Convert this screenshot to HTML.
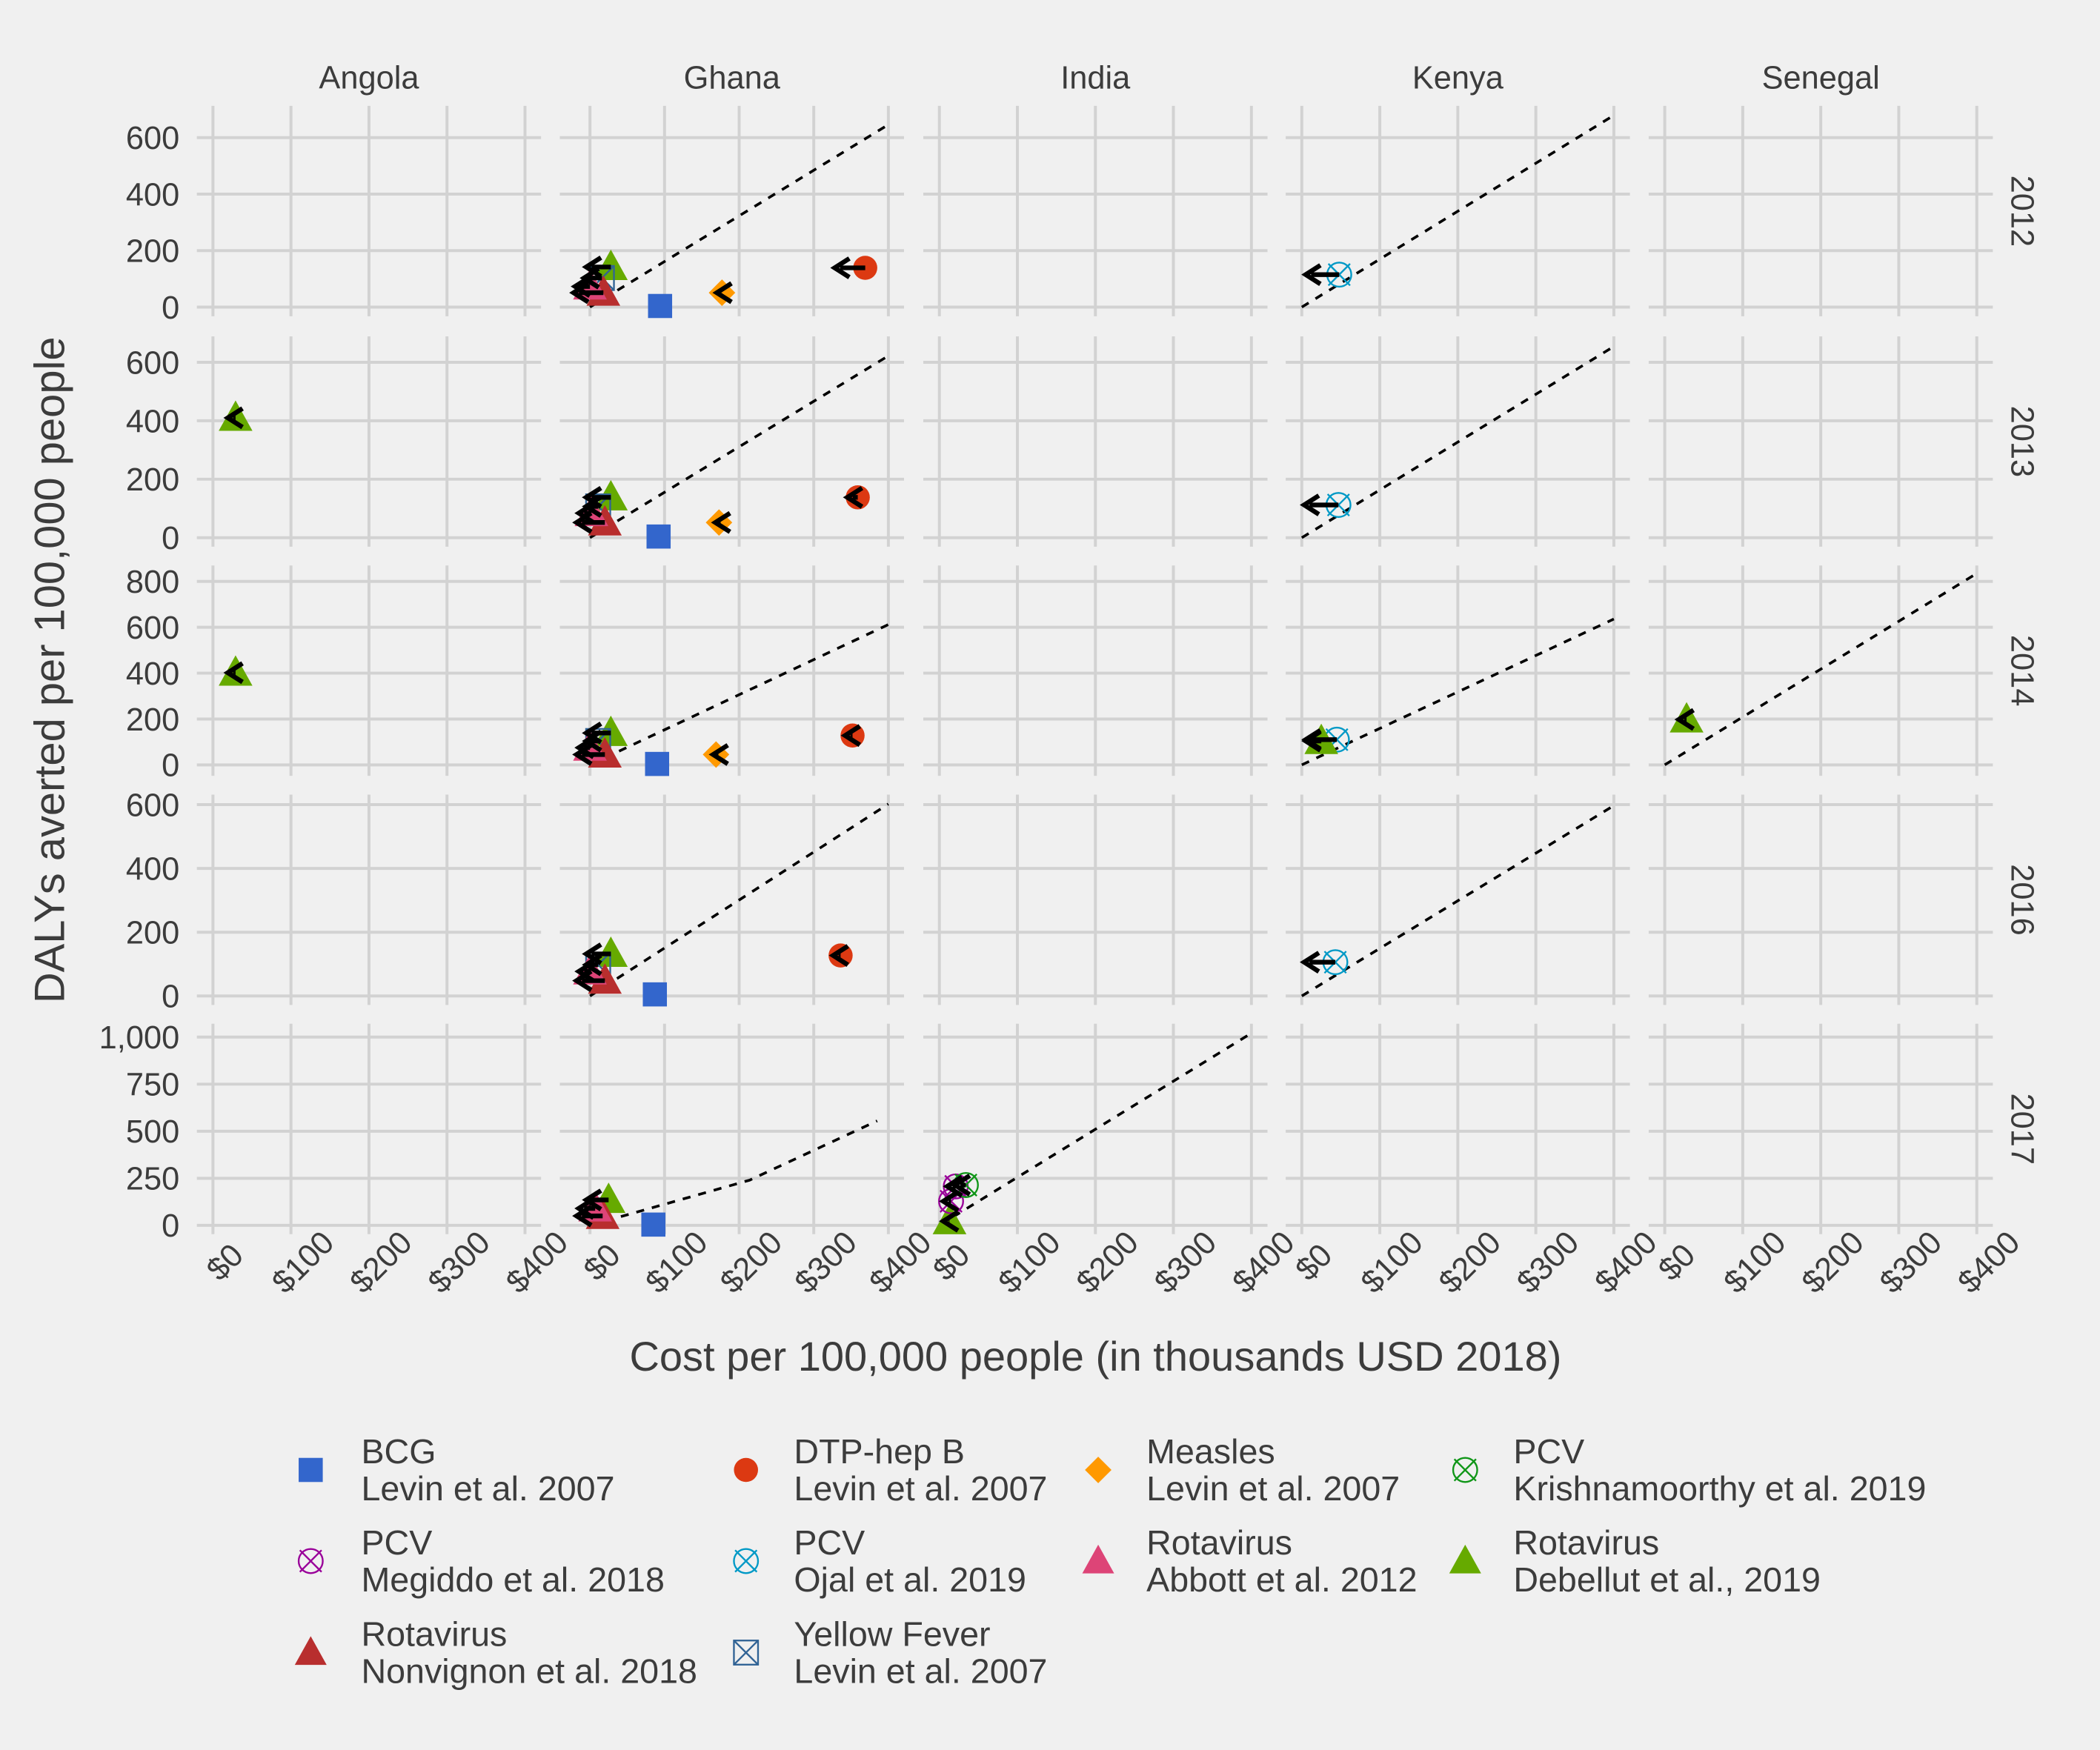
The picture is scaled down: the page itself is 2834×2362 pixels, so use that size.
<!DOCTYPE html>
<html><head><meta charset="utf-8"><style>
html,body{margin:0;padding:0;background:#f0f0f0;}
svg{display:block;}
text{font-family:"Liberation Sans",sans-serif;fill:#3c3c3c;}
</style></head><body>
<svg id="chart" width="2834" height="2362" viewBox="0 0 1568 1306" preserveAspectRatio="none" xmlns="http://www.w3.org/2000/svg">
<rect x="0" y="0" width="1568" height="1306" fill="#f0f0f0"/>
<g id="panels"></g>
<text x="48" y="500" font-size="32" text-anchor="middle" transform="rotate(-90 48 500)">DALYs averted per 100,000 people</text>
<text x="818" y="1023" font-size="31" text-anchor="middle">Cost per 100,000 people (in thousands USD 2018)</text>
<g id="legend"></g>
</svg>
<script>
// ---- data ----
const countries = ["Angola","Ghana","India","Kenya","Senegal"];
const years = ["2012","2013","2014","2016","2017"];
const xTicks = [0,100,200,300,400];
const xTickLabels = ["$0","$100","$200","$300","$400"];
const yTicksByRow = [[0,200,400,600],[0,200,400,600],[0,200,400,600,800],[0,200,400,600],[0,250,500,750,1000]];
const yTickLabelsByRow = [["0","200","400","600"],["0","200","400","600"],["0","200","400","600","800"],["0","200","400","600"],["0","250","500","750","1,000"]];
const xDomains = [[-20.6,420.6],[-40.4,421],[-20.6,420.6],[-20.6,420.6],[-20.6,420.6]];
const yDomains = [[-32.3,712.5],[-30.8,688.7],[-47.9,869.7],[-28.2,631.5],[-46.6,1071]];
const studies = ["BCG|Levin et al. 2007","DTP-hep B|Levin et al. 2007","Measles|Levin et al. 2007","PCV|Krishnamoorthy et al. 2019","PCV|Megiddo et al. 2018","PCV|Ojal et al. 2019","Rotavirus|Abbott et al. 2012","Rotavirus|Debellut et al., 2019","Rotavirus|Nonvignon et al. 2018","Yellow Fever|Levin et al. 2007"];
const studyShapes = ["square","circle","diamond","circlex","circlex","circlex","triangle","triangle","triangle","squarex"];
const studyColors = ["#3366cc","#dc3912","#ff9900","#109618","#990099","#0099c6","#dd4477","#66aa00","#b82e2e","#316395"];
// points: country index, year index, study index, cost, dalys, arrow tip cost (NaN = no arrow)
const ptCountry = [1,1,1,1,1,1,1, 0, 0, 1,1,1,1,1,1,1, 1,1,1,1,1,1,1, 1,1,1,1,1,1, 1,1,1,1, 2,2,2,2, 3,3,3,3,3, 4];
const ptYear    = [0,0,0,0,0,0,0, 1, 2, 1,1,1,1,1,1,1, 2,2,2,2,2,2,2, 3,3,3,3,3,3, 4,4,4,4, 4,4,4,4, 0,1,2,2,3, 2];
const ptStudy   = [0,2,1,7,9,8,6, 7, 7, 0,2,1,7,9,8,6, 0,2,1,7,9,8,6, 0,1,7,9,8,6, 0,7,8,6, 7,4,4,3, 5,5,5,7,5, 7];
const ptCost    = [94,177,369,28,16,18,0, 29,29, 92,173,359,28,11,20,2, 90,169,352,28,11,20,0, 87,336,28,11,20,0, 85,25,17,7, 13,21,15,34, 48,47,45,25,43, 28];
const ptDaly    = [4,51,139,142,103,51,73, 410,402, 4,52,138,138,107,52,84, 4,45,128,139,104,45,75, 5,127,132,98,48,77, 4,135,50,90, 22,207,128,214, 115,112,110,104,106, 198];
const ptTip     = [NaN,170,328,-5,-8,-22,-20, 19,19, NaN,168,345,-5,-5,-18,-15, NaN,165,342,-5,-5,-18,-15, NaN,326,-5,-5,-18,-15, NaN,-5,-18,-15, 5,10,5,20, 5,3,5,5,3, 18];
// threshold lines: country, year, polyline in data
const thrCountry = [1,1,1,1,1,3,3,3,3,2,4];
const thrYear    = [0,1,2,3,4,0,1,2,3,4,2];
const thrX = [[0,400],[0,400],[0,400],[0,400],[0,214,385],[0,400],[0,400],[0,400],[0,400],[0,400],[0,400]];
const thrY = [[0,646],[0,622],[0,612],[0,602],[0,240,555],[0,679],[0,654],[0,636],[0,597],[0,1021],[0,835]];

// ---- layout ----
const NS="http://www.w3.org/2000/svg";
const colLeft=[147,418,689.4,960,1231], panelW=257;
const rowTop=[79,251,422,593,764], panelH=157;
function xScale(c,v){const d=xDomains[c];return colLeft[c]+(v-d[0])/(d[1]-d[0])*panelW;}
function yScale(r,v){const d=yDomains[r];return rowTop[r]+panelH-(v-d[0])/(d[1]-d[0])*panelH;}
function mk(tag,attrs,parent){const e=document.createElementNS(NS,tag);for(const k in attrs)e.setAttribute(k,attrs[k]);parent.appendChild(e);return e;}
const panels=document.getElementById('panels');

function drawShape(g,shape,color,cx,cy,s){
  let e;
  if(shape==="square"){e=mk('rect',{x:cx-s*0.5,y:cy-s*0.5,width:s,height:s,fill:color},g);}
  else if(shape==="circle"){e=mk('circle',{cx:cx,cy:cy,r:s*0.5,fill:color},g);}
  else if(shape==="diamond"){e=mk('polygon',{points:`${cx},${cy-s*0.55} ${cx+s*0.55},${cy} ${cx},${cy+s*0.55} ${cx-s*0.55},${cy}`,fill:color},g);}
  else if(shape==="triangle"){const h=s*1.2;e=mk('polygon',{points:`${cx},${cy-h*0.6} ${cx+s*0.7},${cy+h*0.45} ${cx-s*0.7},${cy+h*0.45}`,fill:color},g);}
  else if(shape==="circlex"){const r=s*0.5;e=mk('g',{},g);mk('circle',{cx:cx,cy:cy,r:r,fill:'none',stroke:color,'stroke-width':1.3},e);
    mk('path',{d:`M${cx-r*0.9},${cy-r*0.9}L${cx+r*0.9},${cy+r*0.9}M${cx+r*0.9},${cy-r*0.9}L${cx-r*0.9},${cy+r*0.9}`,stroke:color,'stroke-width':1.3},e);}
  else if(shape==="squarex"){const r=s*0.5;e=mk('g',{},g);mk('rect',{x:cx-r,y:cy-r,width:2*r,height:2*r,fill:'none',stroke:color,'stroke-width':1.3},e);
    mk('path',{d:`M${cx-r},${cy-r}L${cx+r},${cy+r}M${cx+r},${cy-r}L${cx-r},${cy+r}`,stroke:color,'stroke-width':1.3},e);}
  return e;
}

for(let r=0;r<years.length;r++){
  for(let c=0;c<countries.length;c++){
    const g=mk('g',{},panels);
    
    
    yTicksByRow[r].forEach(v=>{const y=yScale(r,v);const l=mk('line',{x1:colLeft[c],x2:colLeft[c]+panelW,y1:y,y2:y,stroke:'#d2d2d2','stroke-width':2.2},g);
      });
    xTicks.forEach(v=>{const x=xScale(c,v);const l=mk('line',{x1:x,x2:x,y1:rowTop[r],y2:rowTop[r]+panelH,stroke:'#d2d2d2','stroke-width':2.2},g);
      });
  }
  yTicksByRow[r].forEach((v,i)=>{const t=mk('text',{x:134,y:yScale(r,v)+8.5,'font-size':24,'text-anchor':'end'},panels);t.textContent=yTickLabelsByRow[r][i];
    });
  const sy=rowTop[r]+panelH/2;
  const st=mk('text',{x:1502,y:sy,'font-size':24,'text-anchor':'middle',transform:`rotate(90 1502 ${sy})`},panels);st.textContent=years[r];
  
}
for(let c=0;c<countries.length;c++){
  const t=mk('text',{x:colLeft[c]+panelW/2,y:66,'font-size':24,'text-anchor':'middle'},panels);t.textContent=countries[c];
  
  xTicks.forEach((v,i)=>{const x=xScale(c,v)+9,y=942;const tl=mk('text',{x:x,y:y+8,'font-size':24,'text-anchor':'middle',transform:`rotate(-45 ${x} ${y})`},panels);
    tl.textContent=xTickLabels[i];});
}
for(let i=0;i<thrCountry.length;i++){
  const c=thrCountry[i],r=thrYear[i];
  const pts=thrX[i].map((x,j)=>xScale(c,x)+','+yScale(r,thrY[i][j])).join(' ');
  const pl=mk('polyline',{points:pts,fill:'none',stroke:'#000','stroke-width':2,'stroke-dasharray':'6,6'},panels);
  
}
for(let i=0;i<ptCost.length;i++){
  const c=ptCountry[i],r=ptYear[i],s=ptStudy[i];
  const e=drawShape(panels,studyShapes[s],studyColors[s],xScale(c,ptCost[i]),yScale(r,ptDaly[i]),18);
  
  
}
for(let i=0;i<ptCost.length;i++){
  if(isNaN(ptTip[i]))continue;
  const c=ptCountry[i],r=ptYear[i];
  const x0=xScale(c,ptCost[i]),x1=xScale(c,ptTip[i]),y=yScale(r,ptDaly[i]);
  const g=mk('g',{},panels);
  
  
  mk('line',{x1:x0,x2:x1+4,y1:y,y2:y,stroke:'#000','stroke-width':3.5},g);
  mk('path',{d:`M${x1+11},${y-7}L${x1},${y}L${x1+11},${y+7}`,fill:'none',stroke:'#000','stroke-width':3.5,'stroke-linejoin':'miter'},g);
}
const legend=document.getElementById('legend');
const legOrder=[0,1,2,3,4,5,6,7,8,9];
const legColX=[232,557,820,1094], legTextX=[269.7,592.8,856,1130], legRowY=[1092,1160,1228.3];
legOrder.forEach((s,k)=>{
  const col=k%4,row=Math.floor(k/4);
  const g=mk('g',{},legend);
  
  
  drawShape(g,studyShapes[s],studyColors[s],legColX[col],legRowY[row]+5,studyShapes[s]==='triangle'?17:18);
  const parts=studies[s].split('|');
  const t1=mk('text',{x:legTextX[col],y:legRowY[row],'font-size':25.8},g);t1.textContent=parts[0];
  const t2=mk('text',{x:legTextX[col],y:legRowY[row]+27.6,'font-size':25.8},g);t2.textContent=parts[1];
});
</script>
</body></html>
